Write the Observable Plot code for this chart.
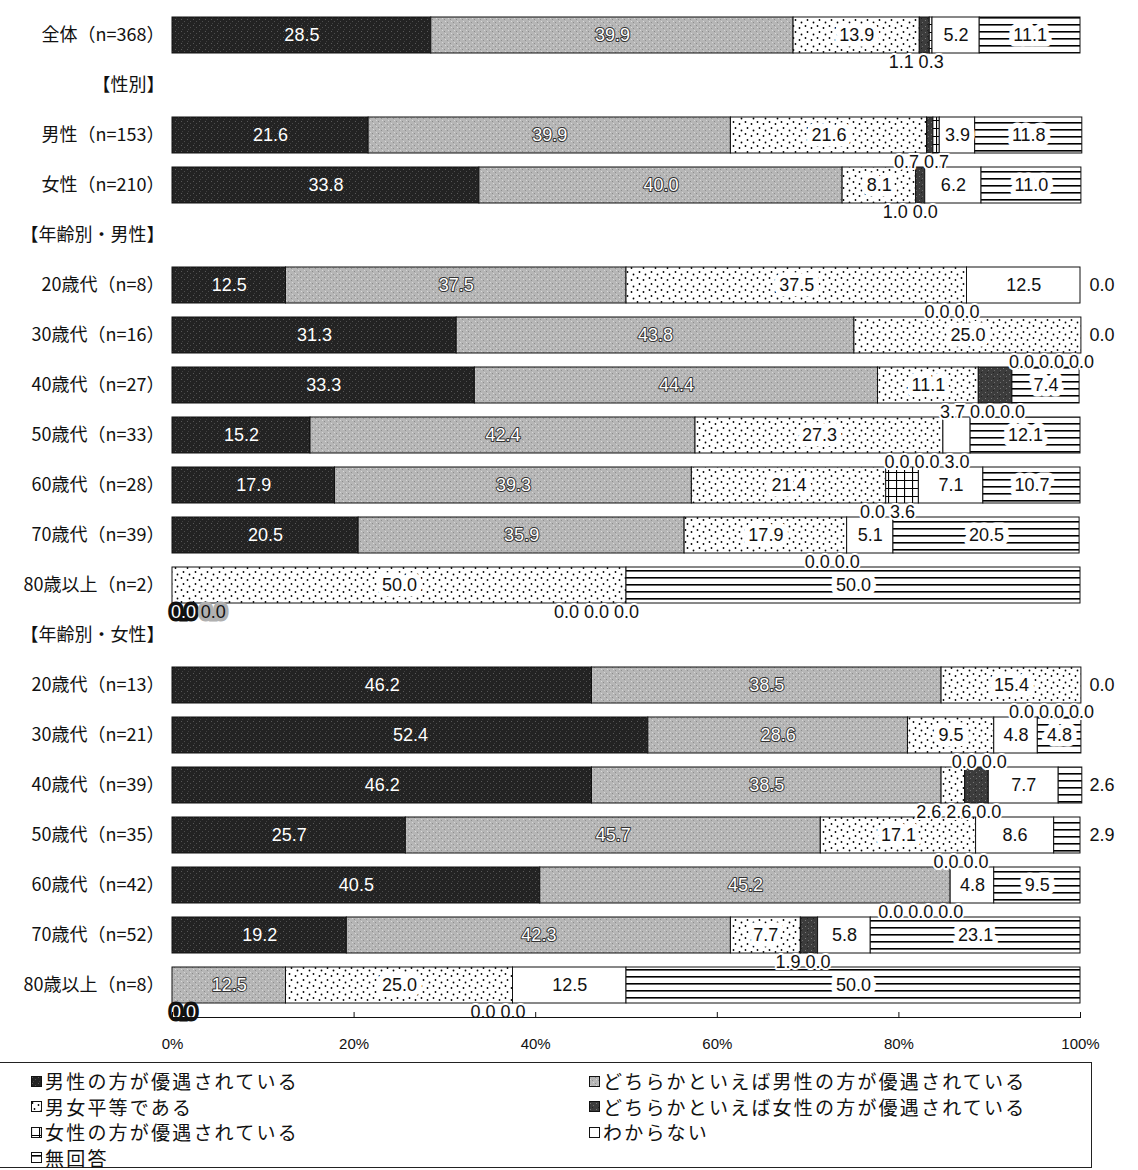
<!DOCTYPE html>
<html><head><meta charset="utf-8">
<script src="https://cdn.jsdelivr.net/npm/d3@7"></script>
<script src="https://cdn.jsdelivr.net/npm/@observablehq/plot@0.6"></script>
<style>
body{margin:0;background:#fff;font-family:"Noto Sans CJK JP","Noto Sans",sans-serif;}
#wrap{position:relative;width:1138px;height:1170px;overflow:hidden;background:#fff;}
#legend{position:absolute;left:-2px;top:1062px;width:1094px;height:106px;border:1.5px solid #222;box-sizing:border-box;}
.item{position:absolute;display:flex;align-items:center;font-size:19px;letter-spacing:2.2px;line-height:20px;height:20px;color:#111;white-space:nowrap;}
.item svg{margin-right:3px;}
</style></head><body>
<svg width="0" height="0" style="position:absolute">
<defs>
  <pattern id="dark" width="6" height="6" patternUnits="userSpaceOnUse">
    <rect width="6" height="6" fill="#232323"/>
    <rect x="1" y="1" width="1" height="1" fill="#585858"/>
    <rect x="4" y="3" width="1" height="1" fill="#4d4d4d"/>
    <rect x="2" y="5" width="1" height="1" fill="#404040"/>
  </pattern>
  <pattern id="light" width="6" height="6" patternUnits="userSpaceOnUse">
    <rect width="6" height="6" fill="#b6b6b6"/>
    <rect x="0" y="1" width="1" height="1" fill="#8c8c8c"/>
    <rect x="3" y="4" width="1" height="1" fill="#909090"/>
    <rect x="4" y="0" width="1" height="1" fill="#d6d6d6"/>
    <rect x="1" y="3" width="1" height="1" fill="#dadada"/>
  </pattern>
  <pattern id="dots" width="12" height="12" patternUnits="userSpaceOnUse">
    <rect width="12" height="12" fill="#fff"/>
    <circle cx="1.5" cy="2" r="0.9" fill="#000"/>
    <circle cx="7.5" cy="4" r="0.9" fill="#000"/>
    <circle cx="3.5" cy="8" r="0.9" fill="#000"/>
    <circle cx="9.5" cy="10.5" r="0.9" fill="#000"/>
  </pattern>
  <pattern id="darkgray" width="6" height="6" patternUnits="userSpaceOnUse">
    <rect width="6" height="6" fill="#3c3c3c"/>
    <rect x="1" y="2" width="1" height="1" fill="#777"/>
    <rect x="4" y="4" width="1" height="1" fill="#6e6e6e"/>
    <rect x="3" y="0" width="1" height="1" fill="#222"/>
  </pattern>
  <pattern id="grid" width="8" height="8" patternUnits="userSpaceOnUse">
    <rect width="8" height="8" fill="#fff"/>
    <path d="M0 0.5H8M0.5 0V8" stroke="#000" stroke-width="1.2"/>
  </pattern>
  <pattern id="hlines" width="8" height="7" patternUnits="userSpaceOnUse">
    <rect width="8" height="7" fill="#fff"/>
    <rect y="3" width="8" height="1.6" fill="#000"/>
  </pattern>
</defs>
</svg>
<div id="wrap"><div id="chart"></div><div id="legend"></div></div>
<script>
// ---- data ----
const rowLabels = [
  "全体（n=368）", "【性別】", "男性（n=153）", "女性（n=210）",
  "【年齢別・男性】", "20歳代（n=8）", "30歳代（n=16）", "40歳代（n=27）", "50歳代（n=33）",
  "60歳代（n=28）", "70歳代（n=39）", "80歳以上（n=2）",
  "【年齢別・女性】", "20歳代（n=13）", "30歳代（n=21）", "40歳代（n=39）", "50歳代（n=35）",
  "60歳代（n=42）", "70歳代（n=52）", "80歳以上（n=8）"
];
const categories = [
  "男性の方が優遇されている",
  "どちらかといえば男性の方が優遇されている",
  "男女平等である",
  "どちらかといえば女性の方が優遇されている",
  "女性の方が優遇されている",
  "わからない",
  "無回答"
];
const strongMale   = [28.5, null, 21.6, 33.8, null, 12.5, 31.3, 33.3, 15.2, 17.9, 20.5, 0.0, null, 46.2, 52.4, 46.2, 25.7, 40.5, 19.2, 0.0];
const leanMale     = [39.9, null, 39.9, 40.0, null, 37.5, 43.8, 44.4, 42.4, 39.3, 35.9, 0.0, null, 38.5, 28.6, 38.5, 45.7, 45.2, 42.3, 12.5];
const equal        = [13.9, null, 21.6, 8.1, null, 37.5, 25.0, 11.1, 27.3, 21.4, 17.9, 50.0, null, 15.4, 9.5, 2.6, 17.1, 0.0, 7.7, 25.0];
const leanFemale   = [1.1, null, 0.7, 1.0, null, 0.0, 0.0, 3.7, 0.0, 0.0, 0.0, 0.0, null, 0.0, 0.0, 2.6, 0.0, 0.0, 1.9, 0.0];
const strongFemale = [0.3, null, 0.7, 0.0, null, 0.0, 0.0, 0.0, 0.0, 3.6, 0.0, 0.0, null, 0.0, 0.0, 0.0, 0.0, 0.0, 0.0, 0.0];
const dontKnow     = [5.2, null, 3.9, 6.2, null, 12.5, 0.0, 0.0, 3.0, 7.1, 5.1, 0.0, null, 0.0, 4.8, 7.7, 8.6, 4.8, 5.8, 12.5];
const noAnswer     = [11.1, null, 11.8, 11.0, null, 0.0, 0.0, 7.4, 12.1, 10.7, 20.5, 50.0, null, 0.0, 4.8, 2.6, 2.9, 9.5, 23.1, 50.0];
const xTicks = [0, 20, 40, 60, 80, 100];

const series = [strongMale, leanMale, equal, leanFemale, strongFemale, dontKnow, noAnswer];
const fills = ["url(#dark)", "url(#light)", "url(#dots)", "url(#darkgray)", "url(#grid)", "#ffffff", "url(#hlines)"];

// ---- table ----
const rows = [];
rowLabels.forEach((lab, i) => {
  if (series[0][i] == null) return;
  let acc = 0;
  categories.forEach((cat, j) => {
    const v = series[j][i];
    rows.push({row: lab, cat, j, value: v, x1: acc, x2: acc + v, mid: acc + v / 2});
    acc += v;
  });
});

const TH = 3.8, GAP = 3.3;
const inside = rows.filter(d => d.value >= TH);
const right = rows.filter(d => d.j === 6 && d.value < TH);
const below = [];
rowLabels.forEach(lab => {
  const items = rows.filter(d => d.row === lab && d.j < 6 && d.value < TH).map(d => ({...d, lx: d.mid}));
  for (let k = items.length - 2; k >= 0; k--) items[k].lx = Math.min(items[k].lx, items[k + 1].lx - GAP);
  for (let k = 0; k < items.length; k++) items[k].lx = Math.max(items[k].lx, k ? items[k - 1].lx + GAP : 1.2);
  below.push(...items);
});

const numFont = "'Liberation Sans', Arial, sans-serif";
const fmt = d => d.value.toFixed(1);

const chart = Plot.plot({
  width: 1138,
  height: 1062,
  marginLeft: 172,
  marginRight: 58,
  marginTop: 2,
  marginBottom: 45,
  x: {domain: [0, 100], axis: null},
  y: {domain: rowLabels, paddingInner: 0.29, paddingOuter: 0.1, axis: null},
  color: {domain: categories, range: fills},
  style: {background: "white", color: "#111"},
  marks: [
    Plot.barX(rows.filter(d => d.value > 0), {x1: "x1", x2: "x2", y: "row", fill: "cat", stroke: "#111", strokeWidth: 1}),
    // inside labels
    Plot.text(inside.filter(d => d.j === 0), {x: "mid", y: "row", text: fmt, fill: "white", fontSize: 18, fontFamily: numFont}),
    Plot.text(inside.filter(d => d.j === 1), {x: "mid", y: "row", text: fmt, fill: "white", stroke: "#333", strokeWidth: 2, paintOrder: "stroke", fontSize: 18, fontFamily: numFont}),
    Plot.text(inside.filter(d => d.j >= 2), {x: "mid", y: "row", text: fmt, fill: "#111", stroke: "white", strokeWidth: 11, strokeLinejoin: "round", paintOrder: "stroke", fontSize: 18, fontFamily: numFont}),
    // labels under the bars for small shares
    Plot.text(below.filter(d => d.j >= 2), {x: "lx", y: "row", dy: 27, text: fmt, fill: "#111", stroke: "white", strokeWidth: 4, paintOrder: "stroke", fontSize: 18, fontFamily: numFont}),
    Plot.text(below.filter(d => d.j === 0), {x: "lx", y: "row", dy: 27, text: fmt, fill: "white", stroke: "#111", strokeWidth: 7, strokeLinejoin: "miter", paintOrder: "stroke", fontSize: 18, fontFamily: numFont}),
    Plot.text(below.filter(d => d.j === 1), {x: "lx", y: "row", dy: 27, text: fmt, fill: "#111", stroke: "#b0b0b0", strokeWidth: 7, strokeLinejoin: "miter", paintOrder: "stroke", fontSize: 18, fontFamily: numFont}),
    // small no-answer shares to the right
    Plot.text(right, {x: () => 100, y: "row", dx: 9, text: fmt, textAnchor: "start", fill: "#111", fontSize: 18, fontFamily: numFont}),
    Plot.frame({anchor: "bottom", stroke: "#111"}),
    Plot.axisX({ticks: xTicks, tickFormat: d => d + "%", tickSize: -5, tickPadding: 26, fontSize: 15, fontFamily: numFont, label: null}),
    Plot.axisY({tickSize: 0, tickPadding: 8, fontSize: 18, fontFamily: "'Noto Sans CJK JP', sans-serif", label: null})
  ]
});
document.getElementById("chart").appendChild(chart);

// ---- legend ----
const legendPos = [
  [30, 0], [588, 0], [30, 1], [588, 1], [30, 2], [588, 2], [30, 3]
];
const legend = document.getElementById("legend");
categories.forEach((cat, j) => {
  const [lx, r] = legendPos[j];
  const div = document.createElement("div");
  div.className = "item";
  div.style.left = (lx + 2) + "px";
  div.style.top = (8 + r * 25.5) + "px";
  div.innerHTML = `<svg width="11" height="11"><rect x="0.5" y="0.5" width="10" height="10" fill="${fills[j]}" stroke="#111" stroke-width="1"/></svg><span>${cat}</span>`;
  legend.appendChild(div);
});
</script>
</body></html>
